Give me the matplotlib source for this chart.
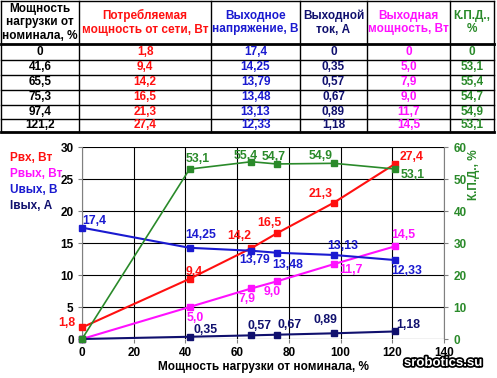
import matplotlib
matplotlib.use("Agg")
import matplotlib.pyplot as plt
import matplotlib.patheffects as pe

plt.rcParams["font.family"] = ["Liberation Sans", "DejaVu Sans"]
plt.rcParams["font.weight"] = "bold"
plt.rcParams["axes.labelweight"] = "bold"

# data
load_pct = [0, 41.6, 65.5, 75.3, 97.4, 121.2]
p_in = [1.8, 9.4, 14.2, 16.5, 21.3, 27.4]
u_out = [17.4, 14.25, 13.79, 13.48, 13.13, 12.33]
i_out = [0, 0.35, 0.57, 0.67, 0.89, 1.18]
p_out = [0, 5.0, 7.9, 9.0, 11.7, 14.5]
eff = [0, 53.1, 55.4, 54.7, 54.9, 53.1]

headers = ["Мощность\nнагрузки от\nноминала, %", "Потребляемая\nмощность от сети, Вт",
           "Выходное\nнапряжение, В", "Выходной\nток, А", "Выходная\nмощность, Вт", "К.П.Д.,\n%"]
table_labels = [
    ["0", "41,6", "65,5", "75,3", "97,4", "121,2"],
    ["1,8", "9,4", "14,2", "16,5", "21,3", "27,4"],
    ["17,4", "14,25", "13,79", "13,48", "13,13", "12,33"],
    ["0", "0,35", "0,57", "0,67", "0,89", "1,18"],
    ["0", "5,0", "7,9", "9,0", "11,7", "14,5"],
    ["0", "53,1", "55,4", "54,7", "54,9", "53,1"],
]

RED = "#ff1010"
MAG = "#ff10ff"
BLUE = "#1a1ad0"
NAVY = "#10106e"
GREEN = "#2a8a2a"
col_colors = ["black", RED, BLUE, NAVY, MAG, GREEN]

W, H = 497, 378
fig = plt.figure(figsize=(W / 100, H / 100), dpi=100)

# background layer in pixel coords for the table
bg = fig.add_axes([0, 0, 1, 1])
bg.set_xlim(0, W)
bg.set_ylim(H, 0)
bg.axis("off")

col_x = [1, 79, 211, 300, 367, 450, 494]
row_y = [1, 44, 59.5, 74.5, 89.5, 104.5, 119, 132]
for x in col_x:
    bg.plot([x, x], [row_y[0], row_y[-1]], color="black", lw=1)
for j, y in enumerate(row_y):
    bg.plot([col_x[0], col_x[-1]], [y, y], color="black", lw=2 if j in (1, 7) else 1)
for c in range(6):
    xc = (col_x[c] + col_x[c + 1]) / 2
    bg.text(xc, 22.5, headers[c], ha="center", va="center", color=col_colors[c],
            fontsize=8.5, linespacing=1.2)
    for r in range(6):
        yc = (row_y[r + 1] + row_y[r + 2]) / 2
        bg.text(xc, yc, table_labels[c][r], ha="center", va="center",
                color=col_colors[c], fontsize=8.5)

# chart
x0, x1, y0, y1 = 82, 444, 147, 339
ax = fig.add_axes([x0 / W, 1 - y1 / H, (x1 - x0) / W, (y1 - y0) / H])
ax2 = ax.twinx()
ax.set_xlim(0, 140)
ax.set_ylim(0, 30)
ax2.set_ylim(0, 60)
ax.set_xticks(range(0, 141, 20))
ax.set_yticks(range(0, 31, 5))
ax2.set_yticks(range(0, 61, 10))
ax.grid(True, color="black", lw=0.8)
ax.set_axisbelow(True)
for a in (ax, ax2):
    for s in a.spines.values():
        s.set_visible(False)
ax.spines["left"].set_visible(True)
ax.spines["left"].set_color("#808080")
ax2.spines["right"].set_visible(True)
ax2.spines["right"].set_color("#808080")
ax.tick_params(labelsize=8.5, length=3, color="#808080", pad=3)
ax.tick_params(axis="x", length=3, pad=3)
ax2.tick_params(labelsize=8.5, length=3, color="#808080", labelcolor=GREEN, pad=4)
ax.set_xlabel("Мощность нагрузки от номинала, %", fontsize=8.5, labelpad=1)

ms = 5
ax.plot(load_pct, p_in, "s-", color=RED, lw=1.5, ms=ms, zorder=4, clip_on=False)
ax.plot(load_pct, p_out, "s-", color=MAG, lw=1.5, ms=ms, zorder=4, clip_on=False)
ax.plot(load_pct, u_out, "s-", color=BLUE, lw=1.5, ms=ms, zorder=4, clip_on=False)
ax.plot(load_pct, i_out, "s-", color=NAVY, lw=1.5, ms=ms, zorder=4, clip_on=False)
ax2.plot(load_pct, eff, "s-", color=GREEN, lw=1.2, ms=ms, zorder=4, clip_on=False)


def labels(a, xs, ys, texts, color, offsets):
    for xv, yv, t, off in zip(xs, ys, texts, offsets):
        if off is None:
            continue
        a.annotate(t, (xv, yv), xytext=off, textcoords="offset points",
                   ha="center", va="center", color=color, fontsize=8.8)


labels(ax, load_pct, p_in, table_labels[1], RED,
       [(-10.8, 3.2), (3.6, 5), (-8.6, 8.6), (-5, 7.5), (-9.4, 6.5), (11.5, 5)])
labels(ax, load_pct, p_out, table_labels[4], MAG,
       [None, (4.3, -7.9), (-2.9, -7.9), (-3.6, -7.5), (12.2, -4.5), (5.8, 7.9)])
labels(ax, load_pct, u_out, table_labels[2], BLUE,
       [(8.6, 4.8), (7.9, 9.4), (2.2, -7), (7.9, -8.6), (6.5, 6.3), (7.9, -7.9)])
labels(ax, load_pct, i_out, table_labels[3], NAVY,
       [None, (11.5, 4.8), (5.8, 6.8), (9.4, 6.8), (-5.8, 9.4), (9.4, 4.3)])
labels(ax2, load_pct, eff, table_labels[5], GREEN,
       [None, (5.8, 7.5), (-4.3, 4.3), (-2.5, 5.3), (-9.4, 5), (12.2, -4.5)])

# legend text on the left
for i, (t, c) in enumerate([("Pвх, Вт", RED), ("Pвых, Вт", MAG),
                            ("Uвых, В", BLUE), ("Iвых, А", NAVY)]):
    bg.text(10, 158 + i * 16, t, color=c, fontsize=8.5, va="center", ha="left")

# right axis title
bg.text(474, 175, "К.П.Д., %", color=GREEN, fontsize=8.5, rotation=90,
        ha="center", va="center")

# watermark
bg.text(443, 363, "srobotics.su", color="white", fontsize=9.5, ha="center", va="center",
        path_effects=[pe.withStroke(linewidth=2.5, foreground="black")])

fig.savefig("out.png", dpi=100)
